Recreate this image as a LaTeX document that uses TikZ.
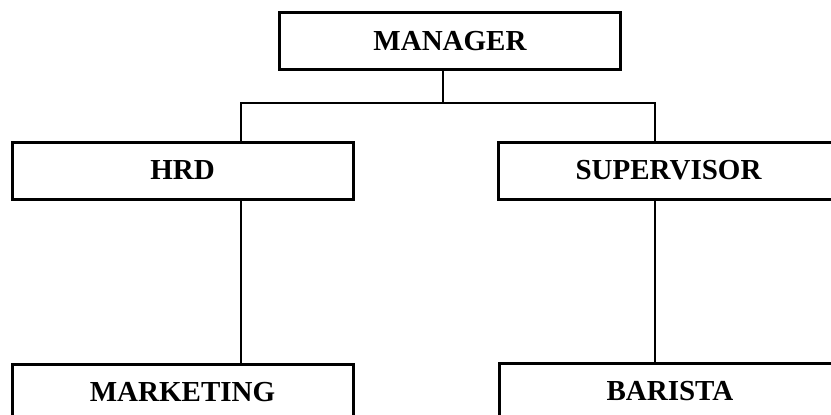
\documentclass[tikz,border=0pt]{standalone}
\usepackage{fontspec}
\setmainfont{Liberation Serif}

\tikzset{
	post/.style={draw,line width=3pt,inner sep=0pt,minimum width=341pt,minimum height=57pt,
		font=\fontsize{29}{34}\selectfont\bfseries},
	link/.style={line width=1.5pt}
}

\begin{document}
\begin{tikzpicture}[x=1pt,y=-1pt]
	\useasboundingbox (0,0) rectangle (831,415);
	\clip (0,0) rectangle (831,415);

	\node[post] at (450,41)		(mgr) {MANAGER};
	\node[post] at (182.5,170.5)	(hrd) {HRD};
	\node[post] at (668.5,170.5)	(sup) {SUPERVISOR};
	\node[post] at (182.5,392.5)	(mkt) {MARKETING};
	\node[post] at (670,391.5)		(bar) {BARISTA};

	\coordinate (bus) at (443,103);
	\coordinate (hrdtap) at (241,0);
	\coordinate (suptap) at (655,0);

	\draw[link] (mgr.south -| bus) -- (bus);
	\draw[link] (hrd.north -| hrdtap) |- (bus) -| (sup.north -| suptap);
	\draw[link] (hrd.south -| hrdtap) -- (mkt.north -| hrdtap);
	\draw[link] (sup.south -| suptap) -- (bar.north -| suptap);
\end{tikzpicture}
\end{document}
